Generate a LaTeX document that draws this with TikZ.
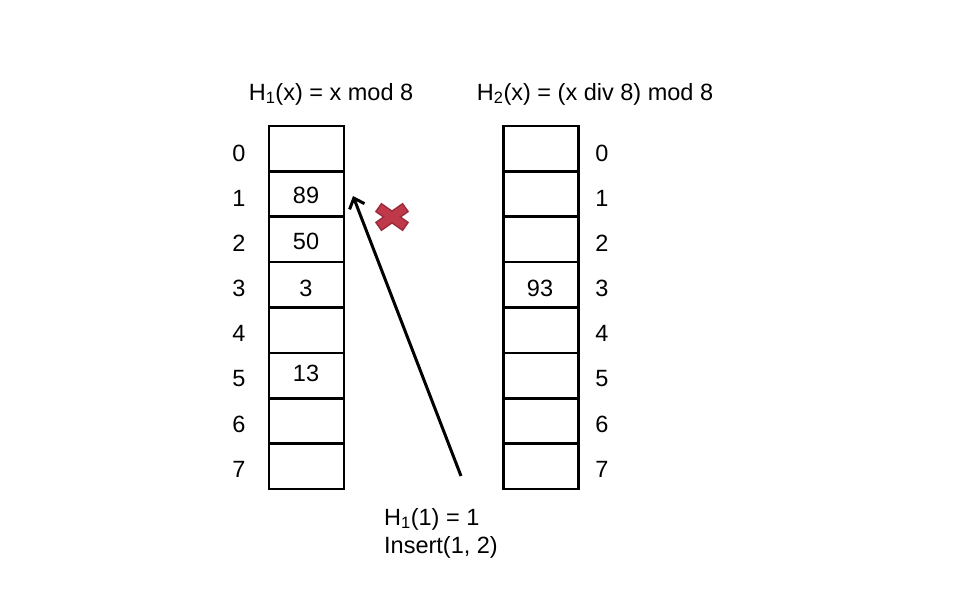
\documentclass[tikz,border=0pt]{standalone}
\usepackage{fontspec}
\setmainfont{Liberation Sans}
\usetikzlibrary{arrows.meta}
\definecolor{xred}{HTML}{C0394B}
\definecolor{xredd}{HTML}{9A2A3A}
\begin{document}
\begin{tikzpicture}[x=1pt,y=-1pt,
  cell/.style={draw=black,line width=2.6pt,minimum width=75pt,minimum height=45.4pt,inner sep=0pt},
  lbl/.style={font=\fontsize{23.5}{28}\selectfont,inner sep=0pt},
  ]
\useasboundingbox[fill=white] (0,0) rectangle (960,600);
\foreach \i in {0,...,7}{
  \node[cell] (L\i) at (306.5,{148.7+45.36*\i}) {};
  \node[cell] (R\i) at (541,{148.7+45.36*\i}) {};
  \node[lbl] (li\i) at (239,{153+45.2*\i}) {\i};
  \node[lbl] (ri\i) at (602,{153+45.2*\i}) {\i};
}
\node[lbl] (v89) at (306,195) {89};
\node[lbl] (v50) at (306,241) {50};
\node[lbl] (v3) at (306,288) {3};
\node[lbl] (v13) at (306,373) {13};
\node[lbl] (v93) at (540,288) {93};
\node[lbl] (t1) at (331,94) {H\textsubscript{1}(x) = x mod 8};
\node[lbl] (t2) at (595,94) {H\textsubscript{2}(x) = (x div 8) mod 8};
\node[lbl,anchor=north west,align=left] (ins) at (384,508) {H\textsubscript{1}(1) = 1\\Insert(1, 2)};
\coordinate (as) at (461,476);
\coordinate (ae) at (353,196);
\draw[line width=3pt,-{Straight Barb[length=9pt,width=16pt,line width=3pt]}] (as) -- (ae);
% red cross
\node (xm) at (392,217) {};
\foreach \a in {35,-35}{
  \draw[xredd,line width=11pt,rotate around={\a:(xm.center)}] ([xshift=-17pt]xm.center) -- ([xshift=17pt]xm.center);
}
\foreach \a in {35,-35}{
  \draw[xred,line width=8pt,rotate around={\a:(xm.center)}] ([xshift=-15.5pt]xm.center) -- ([xshift=15.5pt]xm.center);
}
\end{tikzpicture}
\end{document}
